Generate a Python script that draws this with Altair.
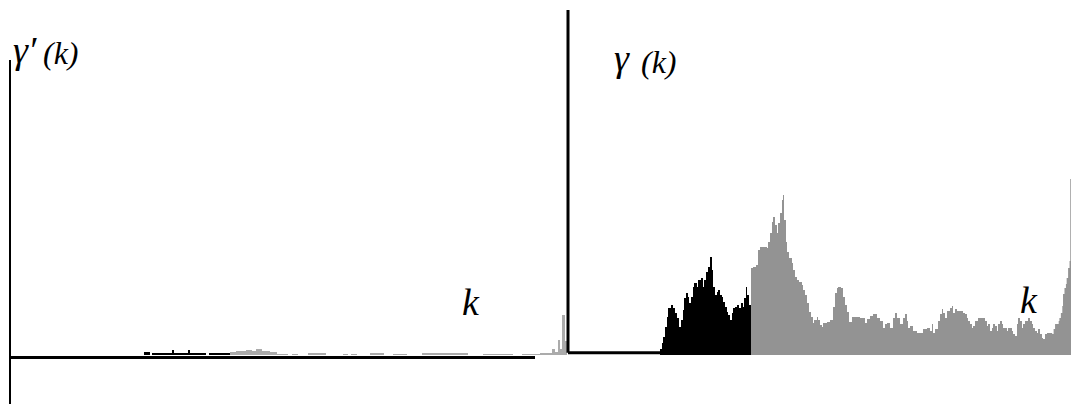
import altair as alt
import pandas as pd

# ---- right panel: gamma(k) histogram (black part, then grey part) ----
right_black_k = [658, 660, 662, 663, 665, 667, 668, 671, 673, 675, 677, 679, 681, 683, 684, 686, 688,
                 689, 691, 693, 694, 697, 698, 701, 703, 704, 706, 708, 710, 712, 713, 715, 717, 718,
                 720, 722, 723, 725, 727, 728, 730, 732, 733, 735, 737, 739, 741, 743, 744, 746, 747,
                 749, 751]
right_black_h = [0, 6, 12, 18, 28, 38, 47, 50, 47, 42, 37, 28, 35, 45, 57, 62, 58,
                 52, 58, 68, 72, 68, 75, 77, 68, 75, 83, 88, 98, 85, 68, 60, 63, 65,
                 60, 58, 53, 48, 43, 40, 35, 42, 47, 48, 50, 47, 52, 48, 57, 68, 60,
                 50, 50]

right_grey_k = [751, 753, 756, 758, 760, 763, 767, 768, 770, 772, 773, 775, 777, 778, 780, 782, 783,
                784, 786, 787, 789, 792, 793, 795, 797, 799, 802, 803, 805, 807, 809, 811, 813, 814,
                817, 818, 820, 822, 823, 827, 830, 833, 835, 837, 838, 841, 843, 845, 847, 849, 852,
                857, 860, 863, 865, 867, 870, 873, 877, 880, 883, 885, 887, 890, 893, 895, 897, 900,
                903, 905, 907, 908, 910, 913, 917, 920, 923, 927, 930, 932, 933, 935, 938, 940, 942,
                943, 945, 947, 950, 952, 953, 955, 957, 960, 963, 965, 967, 968, 970, 972, 973, 975,
                978, 982, 985, 987, 988, 990, 992, 993, 995, 997, 998, 1000, 1002, 1003, 1007, 1008,
                1012, 1013, 1015, 1017, 1018, 1020, 1022, 1023, 1025, 1027, 1028, 1030, 1032, 1033,
                1035, 1037, 1038, 1040, 1042, 1043, 1045, 1047, 1050, 1053, 1055, 1057, 1060, 1062,
                1063, 1065, 1067, 1068, 1070, 1072, 1073, 1075, 1077, 1078, 1079]
right_grey_h = [87, 88, 90, 105, 108, 108, 107, 113, 122, 133, 138, 130, 122, 132, 142, 155, 160,
                135, 113, 103, 97, 92, 85, 78, 75, 73, 70, 65, 60, 52, 43, 38, 32, 35,
                38, 35, 30, 28, 32, 33, 35, 48, 62, 67, 68, 67, 58, 50, 43, 33, 38,
                38, 37, 37, 32, 36, 39, 41, 37, 34, 27, 31, 32, 27, 37, 42, 37, 31,
                37, 41, 34, 27, 29, 24, 22, 22, 26, 27, 24, 31, 22, 26, 34, 41, 46,
                42, 37, 44, 47, 49, 42, 46, 44, 44, 42, 41, 37, 34, 31, 27, 29, 34,
                37, 37, 34, 29, 31, 24, 27, 31, 29, 24, 31, 34, 31, 27, 24, 27,
                24, 21, 19, 31, 37, 34, 27, 31, 34, 34, 37, 34, 31, 27,
                24, 22, 26, 21, 17, 16, 21, 22, 22, 21, 26, 31, 31, 34,
                37, 42, 49, 61, 67, 71, 77, 87, 94, 176, 176]

# ---- left panel: gamma'(k) histogram (black part, then grey part) ----
left_black_k = [144, 150, 152, 172, 174, 188, 190, 206, 209, 230]
left_black_h = [3, 0, 2, 5, 2, 5, 2, 0, 2, 2]

left_grey_k = [230, 236, 246, 252, 256, 262, 270, 277, 288, 292, 298, 308, 326, 343, 348, 351, 357,
               370, 384, 393, 407, 422, 468, 483, 513, 522, 540, 552, 555, 558, 560, 562, 565, 567]
left_grey_h = [3, 4, 5, 4, 6, 4, 3, 1, 0, 1, 0, 2, 0, 1, 0, 1, 0,
               2, 0, 1, 0, 2, 0, 1, 0, 1, 2, 6, 3, 15, 6, 40, 14, 14]

# ---- axis lines ----
rule_x = [10, 10, 568, 568]
rule_x2 = [10, 535, 568, 660]
rule_y = [-49, -2.5, 2.2, 2.2]
rule_y2 = [295, -2.5, 345, 2.2]
rule_w = [2, 3, 3, 3]

# ---- labels (gamma symbol set larger than the bracketed argument) ----
label_text = ["γ′", "(k)", "γ", "(k)", "k", "k"]
label_x = [13, 43, 614, 641, 462, 1020]
label_y = [292, 291, 284, 282, 40, 42]
label_size = [38, 32, 38, 32, 38, 38]

# piecewise-linear k scale: 1:1 over most of the range, slightly squeezed at the far right
xs = alt.Scale(domain=[8, 1050, 1079], range=[0, 1042, 1063], nice=False, zero=False)
ys = alt.Scale(domain=[-49, 347], nice=False, zero=False)


def area(ks, hs, color):
    df = pd.DataFrame({"k": ks, "h": hs})
    return alt.Chart(df).mark_area(interpolate="step-after", color=color, opacity=1).encode(
        x=alt.X("k:Q", scale=xs, axis=None),
        y=alt.Y("h:Q", scale=ys, axis=None, stack=None),
    )


rules = alt.Chart(pd.DataFrame({"x": rule_x, "x2": rule_x2, "y": rule_y, "y2": rule_y2, "w": rule_w})).mark_rule(
    color="black").encode(
    x=alt.X("x:Q", scale=xs, axis=None),
    x2="x2:Q",
    y=alt.Y("y:Q", scale=ys, axis=None),
    y2="y2:Q",
    strokeWidth=alt.StrokeWidth("w:Q", scale=None, legend=None),
)

labels = alt.Chart(pd.DataFrame({"x": label_x, "y": label_y, "t": label_text, "s": label_size})).mark_text(
    align="left", baseline="alphabetic", font="'Liberation Serif', 'Times New Roman', serif",
    fontStyle="italic", color="black").encode(
    x=alt.X("x:Q", scale=xs, axis=None),
    y=alt.Y("y:Q", scale=ys, axis=None),
    text="t:N",
    size=alt.Size("s:Q", scale=None, legend=None),
)

chart = alt.layer(
    area(left_black_k, left_black_h, "#000000"),
    area(left_grey_k, left_grey_h, "#ababab"),
    area(right_black_k, right_black_h, "#000000"),
    area(right_grey_k, right_grey_h, "#939393"),
    rules,
    labels,
).properties(width=1063, height=396, padding=0, background="white").configure_view(stroke=None)

chart.save("out.html", embed_options={"renderer": "svg", "actions": False})
